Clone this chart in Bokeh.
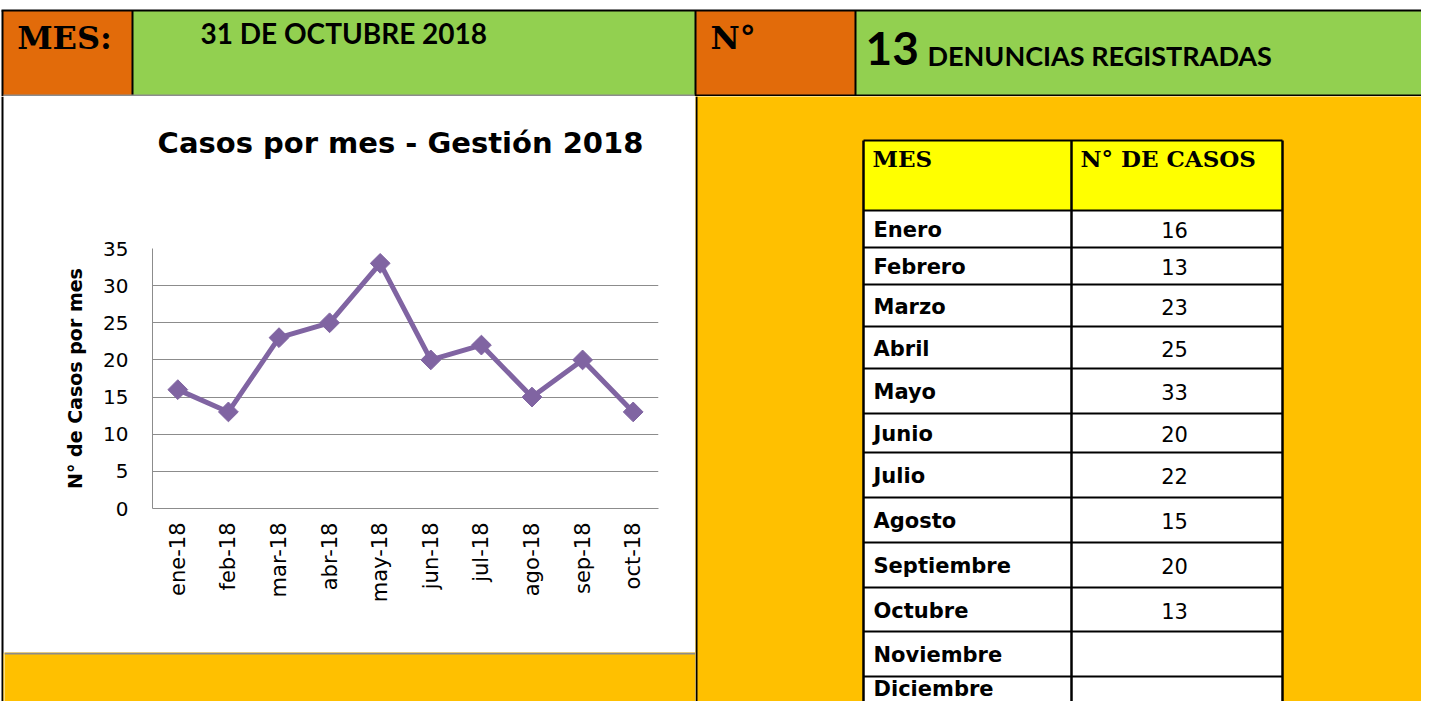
from math import pi
from bokeh.plotting import figure
from bokeh.models import Range1d, FactorRange
from bokeh.layouts import column, row
from bokeh.core.properties import value
from bokeh.embed import file_html
from bokeh.resources import INLINE

# ---------------- data ----------------
months_short = ["ene-18", "feb-18", "mar-18", "abr-18", "may-18",
                "jun-18", "jul-18", "ago-18", "sep-18", "oct-18"]
cases = [16, 13, 23, 25, 33, 20, 22, 15, 20, 13]
months_full = ["Enero", "Febrero", "Marzo", "Abril", "Mayo", "Junio", "Julio",
               "Agosto", "Septiembre", "Octubre", "Noviembre", "Diciembre"]
y_ticks = [0, 5, 10, 15, 20, 25, 30, 35]
report_date = "31 DE OCTUBRE  2018"
chart_title = "Casos por mes - Gestión 2018"
y_label = "N° de Casos por mes"

# ---------------- styles ----------------
ORANGE_DARK = "#E26B0A"
GREEN = "#92D050"
AMBER = "#FFC000"
YELLOW = "#FFFF00"
PURPLE = "#8064A2"
GRAY = "#8C8C8C"
SANS = value("DejaVu Sans")
SLAB = value("DejaVu Serif")
HEAD = value("Lato")

W, H = 1421, 701          # visible page area
EDGE = 4                  # left border strip width
SPLIT_X = 695             # left panel / right panel boundary
HEAD_H = 96               # header band height
TITLE_B = 200             # bottom of chart-title block
CHART_B = 652             # bottom of chart block


def pixel_fig(x0, x1, y0, y1, bg):
    p = figure(width=x1 - x0, height=y1 - y0,
               x_range=Range1d(x0, x1), y_range=Range1d(y1, y0),
               x_axis_type=None, y_axis_type=None,
               output_backend="svg", toolbar_location=None, min_border=0,
               frame_align=False,
               background_fill_color=bg, border_fill_color=bg,
               outline_line_color=None)
    p.grid.visible = False
    return p


def label(p, x, y, txt, font, size, style="bold", align="left"):
    p.text(x=x, y=y, text=txt, text_font=font, text_font_style=style,
           text_font_size=size, text_align=align, text_baseline="middle",
           text_color="black")


# ---------------- header band ----------------
h = pixel_fig(0, W, 0, HEAD_H, "white")
h.quad(left=[2, 132, 695, 855], right=[132, 695, 855, 1437],
       top=[10, 10, 10, 10], bottom=[96, 96, 96, 96],
       fill_color=[ORANGE_DARK, GREEN, ORANGE_DARK, GREEN], line_color=None)
h.segment(x0=[1, 2, 132, 695, 855, 695], y0=[10, 10, 10, 10, 10, 95],
          x1=[1437, 2, 132, 695, 855, 1437], y1=[10, 96, 95, 96, 95, 95],
          line_color="black", line_width=2)
h.segment(x0=[3], y0=[95], x1=[694], y1=[95], line_color=GRAY, line_width=2)
label(h, [64], [37], ["MES:"], SLAB, "32px", align="center")
label(h, [710], [37], ["N°"], SLAB, "32px")
label(h, [200], [32], [report_date], HEAD, "28px")
label(h, [865], [48], [str(cases[-1])], HEAD, "46px")
label(h, [927], [55], ["DENUNCIAS REGISTRADAS"], HEAD, "27px")

# ---------------- left border strip ----------------
e = pixel_fig(0, EDGE, HEAD_H, H, "white")
e.quad(left=[1, 3], right=[3, 4], top=[HEAD_H, CHART_B + 1], bottom=[H, H],
       fill_color=["black", AMBER], line_color=None)

# ---------------- chart title block ----------------
t = pixel_fig(EDGE, SPLIT_X, HEAD_H, TITLE_B, "white")
label(t, [400], [142], [chart_title], SANS, "29px", align="center")

# ---------------- line chart ----------------
c = figure(width=SPLIT_X - EDGE, height=CHART_B - TITLE_B,
           x_range=FactorRange(*months_short), y_range=Range1d(0, 35),
           output_backend="svg", toolbar_location=None, frame_align=False,
           min_border_left=152 - EDGE, min_border_right=37,
           min_border_top=48, min_border_bottom=144,
           background_fill_color="white", border_fill_color="white",
           outline_line_color=None)

c.yaxis.ticker = y_ticks
c.yaxis.axis_label = y_label
c.yaxis.axis_label_text_font = "DejaVu Sans"
c.yaxis.axis_label_text_font_style = "bold"
c.yaxis.axis_label_text_font_size = "19px"
c.yaxis.axis_label_text_color = "black"
c.yaxis.axis_label_standoff = 14
c.yaxis.major_label_standoff = 24
c.xaxis.major_label_standoff = 14
c.xaxis.major_label_orientation = pi / 2
for ax in (c.xaxis, c.yaxis):
    ax.major_label_text_font = "DejaVu Sans"
    ax.major_label_text_font_size = "20px"
    ax.major_label_text_color = "black"
    ax.axis_line_color = GRAY
    ax.axis_line_width = 1
    ax.major_tick_in = 0
    ax.major_tick_out = 0
    ax.minor_tick_in = 0
    ax.minor_tick_out = 0
c.xaxis.major_label_text_font_size = "21px"
c.ygrid.grid_line_color = GRAY
c.ygrid.grid_line_width = 1
c.xgrid.grid_line_color = None

c.line(x=months_short, y=cases, line_color=PURPLE, line_width=5)
c.scatter(x=months_short, y=cases, marker="square", angle=pi / 4, size=14,
          fill_color=PURPLE, line_color=PURPLE)

# ---------------- strip under chart ----------------
s = pixel_fig(EDGE, SPLIT_X, CHART_B, H, AMBER)
s.segment(x0=[EDGE], y0=[653], x1=[SPLIT_X], y1=[653], line_color=GRAY, line_width=2)

# ---------------- right panel with table ----------------
r = pixel_fig(SPLIT_X, W, HEAD_H, H, AMBER)
r.segment(x0=[696], y0=[HEAD_H], x1=[696], y1=[H], line_color="black", line_width=2)

row_edges = [140, 210, 247, 284, 326, 368, 413, 452, 497, 542, 587, 631, 676, 717]
tx0, tmid, tx1 = 863, 1071, 1282
r.quad(left=[tx0, tx0], right=[tx1, tx1], top=[row_edges[0], row_edges[1]],
       bottom=[row_edges[1], row_edges[-1]], fill_color=[YELLOW, "white"], line_color=None)
r.segment(x0=[tx0] * (len(row_edges) - 1), y0=row_edges[:-1],
          x1=[tx1] * (len(row_edges) - 1), y1=row_edges[:-1],
          line_color="black", line_width=2)
r.segment(x0=[tx0, tmid, tx1], y0=[row_edges[0]] * 3, x1=[tx0, tmid, tx1],
          y1=[row_edges[-1]] * 3, line_color="black", line_width=2.5)
label(r, [872, 1080], [158, 158], ["MES", "N° DE CASOS"], SLAB, "23px")

mids = [min((row_edges[i + 1] + row_edges[i + 2]) / 2 + 1, H - 13)
        for i in range(len(months_full))]
label(r, [873] * len(months_full), mids, months_full, SANS, "21px")
label(r, [1174] * len(cases), mids[:len(cases)], [str(v) for v in cases],
      SANS, "21px", style="normal", align="center")

layout = column(h, row(e, column(t, c, s), r))
open("out.html", "w").write(file_html(layout, INLINE))
